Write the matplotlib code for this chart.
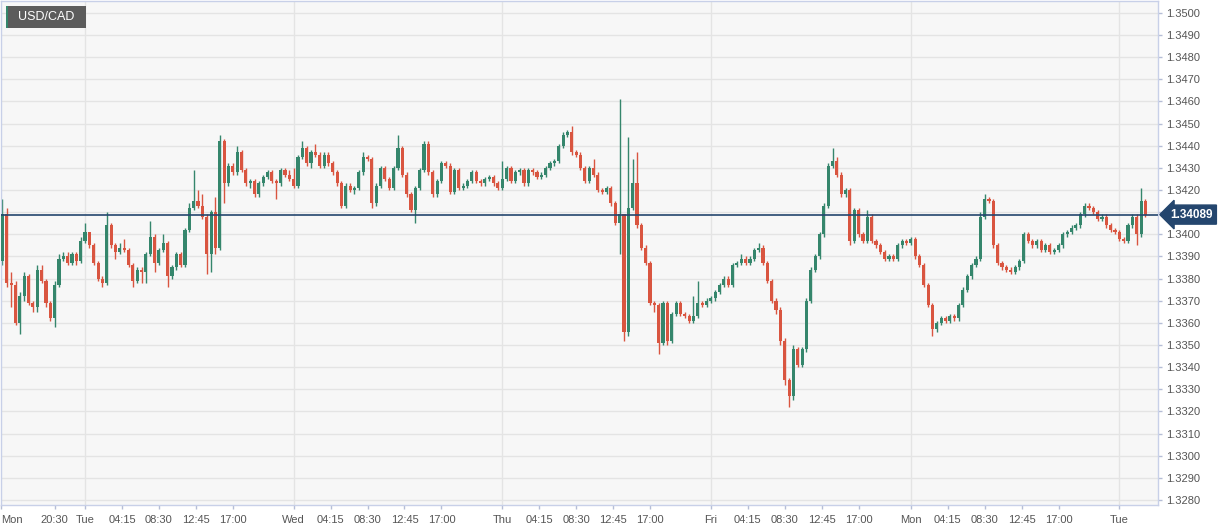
import numpy as np
import matplotlib.pyplot as plt
from matplotlib.patches import Rectangle
import matplotlib.transforms as mtransforms

plt.rcParams['font.family'] = ['Liberation Sans', 'DejaVu Sans']

# 30-minute USD/CAD candles, slot 0 = Tue 00:00 (weekend gap removed)
first_open = 1.3388
close_mon = [1.3409, 1.3378, 1.3377, 1.3360, 1.3372, 1.3381, 1.3369, 1.3367, 1.3384, 1.3379,
             1.3369, 1.3362, 1.3377, 1.3389, 1.3390, 1.3387, 1.3391, 1.3388, 1.3397]
close_tue = [1.3401, 1.3395, 1.3387, 1.3380, 1.3378, 1.3404, 1.3395, 1.3392, 1.3394, 1.3393,
             1.3386, 1.3379, 1.3384, 1.3383, 1.3391, 1.3399, 1.3387, 1.3393, 1.3396, 1.3381,
             1.3385, 1.3391, 1.3386, 1.3402, 1.3412, 1.3415, 1.3413, 1.3408, 1.3391, 1.3410,
             1.3394, 1.3442, 1.3423, 1.3431, 1.3428, 1.3437, 1.3429, 1.3423, 1.3424, 1.3418,
             1.3423, 1.3426, 1.3428, 1.3424, 1.3423, 1.3429, 1.3427, 1.3425]
close_wed = [1.3422, 1.3435, 1.3439, 1.3432, 1.3437, 1.3436, 1.3431, 1.3436, 1.3432, 1.3428,
             1.3423, 1.3413, 1.3422, 1.3420, 1.3421, 1.3428, 1.3435, 1.3434, 1.3414, 1.3422,
             1.3430, 1.3425, 1.3421, 1.3430, 1.3439, 1.3427, 1.3418, 1.3411, 1.3421, 1.3429,
             1.3441, 1.3428, 1.3418, 1.3424, 1.3432, 1.3431, 1.3419, 1.3429, 1.3421, 1.3422,
             1.3424, 1.3428, 1.3424, 1.3423, 1.3425, 1.3426, 1.3423, 1.3421]
close_thu = [1.3425, 1.3430, 1.3424, 1.3428, 1.3429, 1.3423, 1.3429, 1.3428, 1.3426, 1.3427,
             1.3430, 1.3432, 1.3433, 1.3440, 1.3445, 1.3446, 1.3437, 1.3436, 1.3430, 1.3424,
             1.3430, 1.3427, 1.3420, 1.3419, 1.3421, 1.3414, 1.3405, 1.3409, 1.3356, 1.3412,
             1.3423, 1.3404, 1.3394, 1.3387, 1.3369, 1.3368, 1.3351, 1.3369, 1.3352, 1.3364,
             1.3369, 1.3364, 1.3363, 1.3361, 1.3363, 1.3369, 1.3368, 1.3370]
close_fri = [1.3371, 1.3374, 1.3377, 1.3380, 1.3377, 1.3386, 1.3387, 1.3389, 1.3387, 1.3389,
             1.3393, 1.3394, 1.3387, 1.3379, 1.3370, 1.3366, 1.3352, 1.3334, 1.3327, 1.3348,
             1.3341, 1.3348, 1.3370, 1.3384, 1.3390, 1.3400, 1.3413, 1.3431, 1.3433, 1.3427,
             1.3418, 1.3420, 1.3397, 1.3411, 1.3400, 1.3397, 1.3408, 1.3397, 1.3395, 1.3392,
             1.3389, 1.3390, 1.3389, 1.3395, 1.3397, 1.3396]
close_mon2 = [1.3398, 1.3390, 1.3386, 1.3377, 1.3368, 1.3357, 1.3360, 1.3362, 1.3361, 1.3363,
              1.3362, 1.3368, 1.3375, 1.3381, 1.3386, 1.3389, 1.3408, 1.3416, 1.3415, 1.3395,
              1.3387, 1.3385, 1.3384, 1.3383, 1.3385, 1.3388, 1.3400, 1.3397, 1.3395, 1.3397,
              1.3393, 1.3395, 1.3392, 1.3393, 1.3395, 1.3400, 1.3401, 1.3403, 1.3404, 1.3409,
              1.3413, 1.3412, 1.3410, 1.3407, 1.3408, 1.3404, 1.3402, 1.3401, 1.3398, 1.3397,
              1.3404, 1.3408, 1.3400, 1.3415, 1.34089]

# wick lengths in pips above / below the body
up_wick = [7, 3, 5, 2, 2, 2, 1, 1, 2, 2, 1, 1, 2, 2, 2, 2, 1, 1, 2,
           4, 0, 1, 1, 1, 6, 1, 1, 2, 4, 1, 1, 1, 1, 1, 7, 1, 1, 4, 1,
           1, 1, 1, 1, 2, 14, 5, 5, 1, 1, 7, 3, 1, 1, 1, 3, 1, 1, 1, 1,
           1, 1, 1, 1, 1, 1, 1, 2,
           5, 1, 3, 1, 1, 4, 1, 1, 1, 1, 1, 1, 1, 1, 1, 1, 2, 1, 1, 1,
           1, 1, 1, 1, 6, 1, 1, 1, 1, 1, 1, 1, 1, 1, 1, 1, 1, 1, 1, 1,
           1, 1, 1, 1, 1, 1, 1, 1,
           8, 1, 1, 1, 1, 1, 1, 1, 1, 1, 1, 1, 1, 1, 1, 1, 3, 1, 1, 1,
           1, 4, 1, 1, 1, 1, 1, 52, 0, 32, 11, 14, 1, 1, 1, 1, 1, 1, 1, 1,
           1, 1, 1, 1, 9, 10, 1, 1,
           1, 1, 1, 1, 1, 1, 1, 2, 1, 1, 1, 2, 1, 1, 1, 1, 1, 1, 1, 2,
           1, 1, 1, 1, 1, 1, 1, 1, 6, 2, 1, 1, 1, 1, 1, 1, 3, 1, 1, 1,
           1, 1, 1, 1, 1, 1,
           1, 1, 1, 1, 1, 1, 1, 1, 1, 1, 1, 1, 1, 1, 1, 1, 2, 2, 1, 1,
           1, 1, 1, 1, 1, 1, 1, 1, 1, 1, 1, 1, 1, 1, 1, 1, 1, 1, 1, 1,
           1, 1, 1, 1, 1, 1, 1, 1, 1, 1, 1, 1, 1, 6, 1]
dn_wick = [2, 2, 10, 1, 5, 2, 1, 2, 2, 1, 2, 1, 4, 1, 1, 1, 1, 2, 1,
           1, 1, 1, 1, 2, 1, 1, 3, 1, 1, 1, 3, 1, 5, 5, 1, 4, 1, 1, 5,
           1, 1, 1, 1, 1, 1, 1, 1, 9, 8, 3, 1, 9, 1, 1, 1, 1, 1, 2, 1,
           1, 1, 1, 1, 7, 1, 1, 1,
           1, 1, 1, 1, 2, 1, 1, 1, 1, 1, 1, 1, 1, 1, 2, 1, 1, 1, 2, 1,
           1, 1, 1, 1, 1, 1, 1, 1, 6, 1, 1, 1, 1, 1, 1, 1, 1, 1, 1, 1,
           1, 1, 1, 1, 1, 1, 1, 1,
           1, 1, 1, 1, 1, 1, 1, 1, 1, 1, 1, 1, 1, 1, 1, 1, 1, 1, 1, 1,
           1, 1, 1, 1, 1, 1, 1, 14, 4, 2, 1, 1, 1, 1, 1, 3, 5, 1, 2, 1,
           1, 1, 1, 1, 1, 1, 1, 1,
           1, 1, 1, 1, 1, 1, 1, 1, 1, 1, 1, 1, 1, 1, 1, 2, 2, 2, 5, 2,
           1, 1, 1, 1, 1, 1, 1, 1, 1, 1, 1, 1, 2, 1, 1, 1, 1, 1, 1, 1,
           1, 1, 1, 1, 1, 1,
           1, 1, 1, 1, 1, 3, 1, 1, 1, 1, 1, 1, 1, 1, 1, 1, 1, 1, 1, 1,
           1, 1, 1, 1, 1, 1, 1, 1, 1, 1, 1, 1, 1, 1, 1, 1, 1, 1, 1, 1,
           1, 1, 1, 1, 1, 1, 1, 1, 1, 1, 1, 1, 5, 1, 1]

tick_pos = [-19.4, -7, 0, 8.5, 17, 25.5, 34, 48, 56.5, 65, 73.5, 82,
            96, 104.5, 113, 121.5, 130, 144, 152.5, 161, 169.5, 178,
            190, 198.5, 207, 215.5, 224, 238]
tick_lab = ['Mon', '20:30', 'Tue', '04:15', '08:30', '12:45', '17:00',
            'Wed', '04:15', '08:30', '12:45', '17:00',
            'Thu', '04:15', '08:30', '12:45', '17:00',
            'Fri', '04:15', '08:30', '12:45', '17:00',
            'Mon', '04:15', '08:30', '12:45', '17:00', 'Tue']
day_starts = [0, 48, 96, 144, 190, 238]
last_price = 1.34089

pip = 0.0001
closes = np.array(close_mon + close_tue + close_wed + close_thu + close_fri + close_mon2)
opens = np.concatenate([[first_open], closes[:-1]])
slots = np.arange(-19, -19 + len(closes))
highs = np.maximum(opens, closes) + np.array(up_wick) * pip
lows = np.minimum(opens, closes) - np.array(dn_wick) * pip

green = '#35866c'
red = '#d95540'
colors = np.where(closes > opens, green, np.where(closes < opens, red, '#111111'))

fig = plt.figure(figsize=(12.29, 5.30), dpi=100)
ax = fig.add_axes([0.0005, 25 / 530, 1157 / 1229, 504 / 530])
ax.set_facecolor('#f7f7f7')

for d in day_starts:
    ax.axvline(d, color='#e4e4e4', lw=1, zorder=0)
levels = np.arange(1.3280, 1.35005, 0.001)
for lv in levels:
    ax.axhline(lv, color='#e4e4e4', lw=1, zorder=0)

ax.vlines(slots, lows, highs, colors=colors, lw=1, zorder=2)
body = np.abs(closes - opens)
body = np.maximum(body, 0.000015)
ax.bar(slots, body, bottom=np.minimum(opens, closes), width=0.72,
       color=colors, edgecolor='none', zorder=3)

ax.axhline(last_price, color='#24466e', lw=1.2, zorder=4)

ax.set_xlim(-19.43, 246.8)
ax.set_ylim(1.32777, 1.35054)

ax.yaxis.tick_right()
ax.set_yticks(levels)
# the 1.3410 label sits under the last-price tag
ax.set_yticklabels(['' if abs(v - 1.3410) < 1e-6 else f'{v:.4f}' for v in levels])
ax.set_xticks(tick_pos)
ax.set_xticklabels(tick_lab)
ax.get_xticklabels()[0].set_horizontalalignment('left')
ax.tick_params(axis='both', colors='#b5bdd6', labelcolor='#555555',
               labelsize=8, length=3, width=1)
ax.tick_params(axis='y', pad=3)
ax.tick_params(axis='x', pad=4)
for s in ax.spines.values():
    s.set_color('#c8d0e8')
    s.set_linewidth(1)

# last price tag
trans = mtransforms.blended_transform_factory(ax.transAxes, ax.transData)
ax.text(1.011, last_price, f'{last_price:.5f}', transform=trans, color='white',
        fontsize=8.5, fontweight='bold', va='center', ha='left', zorder=6,
        bbox=dict(boxstyle='larrow,pad=0.3', fc='#24466e', ec='#24466e'),
        clip_on=False)

# symbol badge
ax.add_patch(Rectangle((5 / 1157, 1 - 27 / 504), 80 / 1157, 22 / 504,
                       transform=ax.transAxes, fc='#5c5c5c', ec='none', zorder=7))
ax.add_patch(Rectangle((5 / 1157, 1 - 27 / 504), 2 / 1157, 22 / 504,
                       transform=ax.transAxes, fc=green, ec='none', zorder=8))
ax.text(46 / 1157, 1 - 16 / 504, 'USD/CAD', transform=ax.transAxes, color='white',
        fontsize=9, ha='center', va='center', zorder=9)

fig.savefig('out.png', dpi=100, facecolor='white')
